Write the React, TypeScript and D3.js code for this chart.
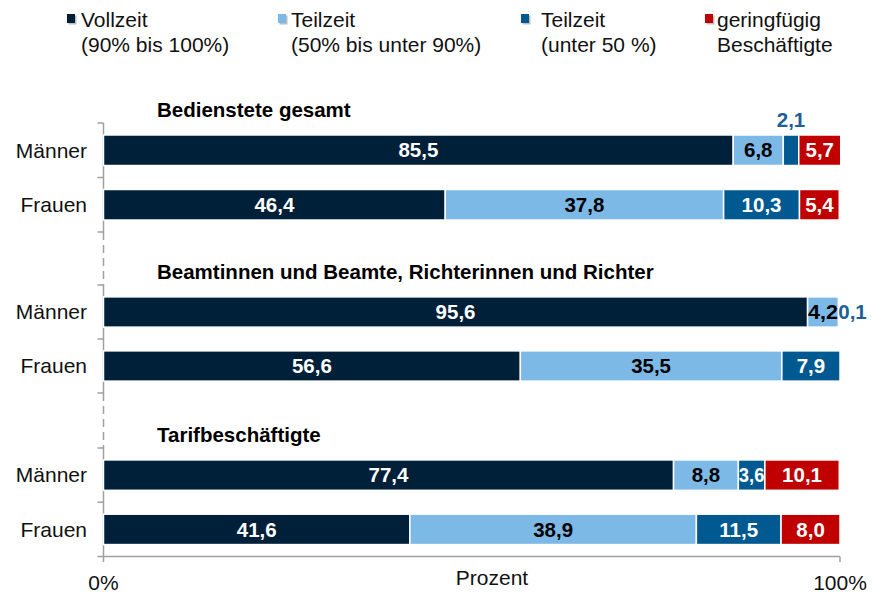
import React from "react";
import * as d3 from "d3";

const categories = ["Männer", "Frauen"];
const panelTitles = [
  "Bedienstete gesamt",
  "Beamtinnen und Beamte, Richterinnen und Richter",
  "Tarifbeschäftigte",
];
// per panel: [Männer, Frauen]
const vollzeit = [[85.5, 46.4], [95.6, 56.6], [77.4, 41.6]];
const teilzeit5090 = [[6.8, 37.8], [4.2, 35.5], [8.8, 38.9]];
const teilzeitUnter50 = [[2.1, 10.3], [0.1, 7.9], [3.6, 11.5]];
const geringfuegig = [[5.7, 5.4], [0, 0], [10.1, 8.0]];

const seriesNames = [
  ["Vollzeit", "(90% bis 100%)"],
  ["Teilzeit", "(50% bis unter 90%)"],
  ["Teilzeit", "(unter 50 %)"],
  ["geringfügig", "Beschäftigte"],
];
const seriesColors = ["#00203A", "#7DB9E6", "#005A91", "#C00000"];
const labelColors = ["#FFFFFF", "#000000", "#FFFFFF", "#FFFFFF"];
const xTickLabels = ["0%", "100%"];
const xAxisTitle = "Prozent";

const W = 877;
const H = 594;
const FONT = "'Liberation Sans', Arial, sans-serif";

export default function App() {
  const x = d3.scaleLinear().domain([0, 100]).range([103.5, 840]);
  const panelRanges: [number, number][] = [
    [123, 232],
    [285, 393],
    [448, 556.5],
  ];
  const allSeries = [vollzeit, teilzeit5090, teilzeitUnter50, geringfuegig];
  const legendX = [67, 278, 521, 705];
  const legendTextX = [81, 291, 541, 717];
  const fmt = (v: number) => v.toFixed(1).replace(".", ",");
  const axisColor = "#A0A0A0";
  const FS = 21;
  const BFS = 20.5;

  const panels = panelRanges.map((r, pi) => {
    const y = d3
      .scaleBand<string>()
      .domain(categories)
      .range(r)
      .paddingInner(0.44)
      .paddingOuter(0.22);
    const rows = categories.map((cat, ci) => {
      const vals = allSeries.map((s) => s[pi][ci]);
      const cum = d3.cumsum(vals);
      const lastNonZero = vals.reduce((acc, v, i) => (v > 0 ? i : acc), 0);
      const y0 = y(cat)!;
      const bh = y.bandwidth();
      const segs = vals.map((v, si) => {
        const start = si === 0 ? 0 : cum[si - 1];
        const x0 = x(start);
        const x1 = x(start + v);
        return { v, si, x0, x1 };
      });
      return { cat, y0, bh, segs, lastNonZero };
    });
    return { y, rows, r, pi };
  });

  return (
    <svg width={W} height={H} style={{ position: "absolute", left: 0, top: 0 }} fontFamily={FONT}>
      <rect width={W} height={H} fill="#fff" />
      {/* Legend */}
      {seriesNames.map((lines, i) => (
        <g key={"leg" + i}>
          <rect x={legendX[i] + 1.5} y={15.5} width={8} height={9} fill="#BDBDBD" />
          <rect x={legendX[i]} y={14} width={8} height={9} fill={seriesColors[i]} />
          <text x={legendTextX[i]} y={27} fontSize={FS} fill="#111">
            {lines[0]}
          </text>
          <text x={legendTextX[i]} y={52} fontSize={FS} fill="#111">
            {lines[1]}
          </text>
        </g>
      ))}

      {/* Left axis */}
      {panels.map((p, pi) => (
        <g key={"ax" + pi}>
          <line x1={x(0)} x2={x(0)} y1={p.r[0]} y2={p.r[1]} stroke={axisColor} strokeWidth={1.5} />
          {[p.r[0], (p.r[0] + p.r[1]) / 2, p.r[1]].map((ty, k) => (
            <line key={k} x1={x(0) - 6} x2={x(0)} y1={ty} y2={ty} stroke={axisColor} strokeWidth={1.5} />
          ))}
          {pi < panels.length - 1 && (
            <line
              x1={x(0)}
              x2={x(0)}
              y1={p.r[1]}
              y2={panels[pi + 1].r[0]}
              stroke={axisColor}
              strokeWidth={1.5}
              strokeDasharray="8,5"
            />
          )}
        </g>
      ))}

      {/* Bottom axis */}
      <line x1={x(0)} x2={x(100)} y1={556.5} y2={556.5} stroke={axisColor} strokeWidth={1.5} />
      {[0, 100].map((t, i) => (
        <g key={"xt" + i}>
          <line x1={x(t)} x2={x(t)} y1={556.5} y2={562} stroke={axisColor} strokeWidth={1.5} />
          <text x={x(t)} y={590} fontSize={FS} textAnchor="middle" fill="#111">
            {xTickLabels[i]}
          </text>
        </g>
      ))}
      <text x={492} y={585} fontSize={FS} textAnchor="middle" fill="#111">
        {xAxisTitle}
      </text>

      {/* Panels */}
      {panels.map((p, pi) => (
        <g key={"p" + pi}>
          <text x={157} y={p.r[0] - 6} fontSize={BFS} fontWeight="bold" fill="#000">
            {panelTitles[pi]}
          </text>
          {p.rows.map((row) => (
            <g key={row.cat}>
              <text
                x={87}
                y={row.y0 + row.bh / 2}
                dy="0.35em"
                fontSize={FS}
                textAnchor="end"
                fill="#111"
              >
                {row.cat}
              </text>
              {row.segs
                .filter((s) => s.v > 0)
                .map((s) => (
                  <rect
                    key={"r" + s.si}
                    x={s.x0}
                    y={row.y0}
                    width={Math.max(0, s.x1 - s.x0)}
                    height={row.bh}
                    fill={seriesColors[s.si]}
                    stroke="#FFFFFF"
                    strokeWidth={1.5}
                  />
                ))}
              {row.segs
                .filter((s) => s.v > 0)
                .map((s) => {
                  const w = s.x1 - s.x0;
                  const cx = (s.x0 + s.x1) / 2;
                  const cy = row.y0 + row.bh / 2;
                  if (w < 20) {
                    if (s.si === row.lastNonZero) {
                      return (
                        <text
                          key={"l" + s.si}
                          x={s.x1 - 1}
                          y={cy}
                          dy="0.35em"
                          fontSize={BFS}
                          fontWeight="bold"
                          fill="#1F5F96"
                        >
                          {fmt(s.v)}
                        </text>
                      );
                    }
                    return (
                      <text
                        key={"l" + s.si}
                        x={cx}
                        y={row.y0 - 8}
                        fontSize={BFS}
                        fontWeight="bold"
                        textAnchor="middle"
                        fill="#1F5F96"
                      >
                        {fmt(s.v)}
                      </text>
                    );
                  }
                  return (
                    <text
                      key={"l" + s.si}
                      x={cx}
                      y={cy}
                      dy="0.35em"
                      fontSize={BFS}
                      fontWeight="bold"
                      textAnchor="middle"
                      fill={labelColors[s.si]}
                      textLength={w < 34 ? w - 1 : undefined}
                      lengthAdjust="spacingAndGlyphs"
                    >
                      {fmt(s.v)}
                    </text>
                  );
                })}
            </g>
          ))}
        </g>
      ))}
    </svg>
  );
}
